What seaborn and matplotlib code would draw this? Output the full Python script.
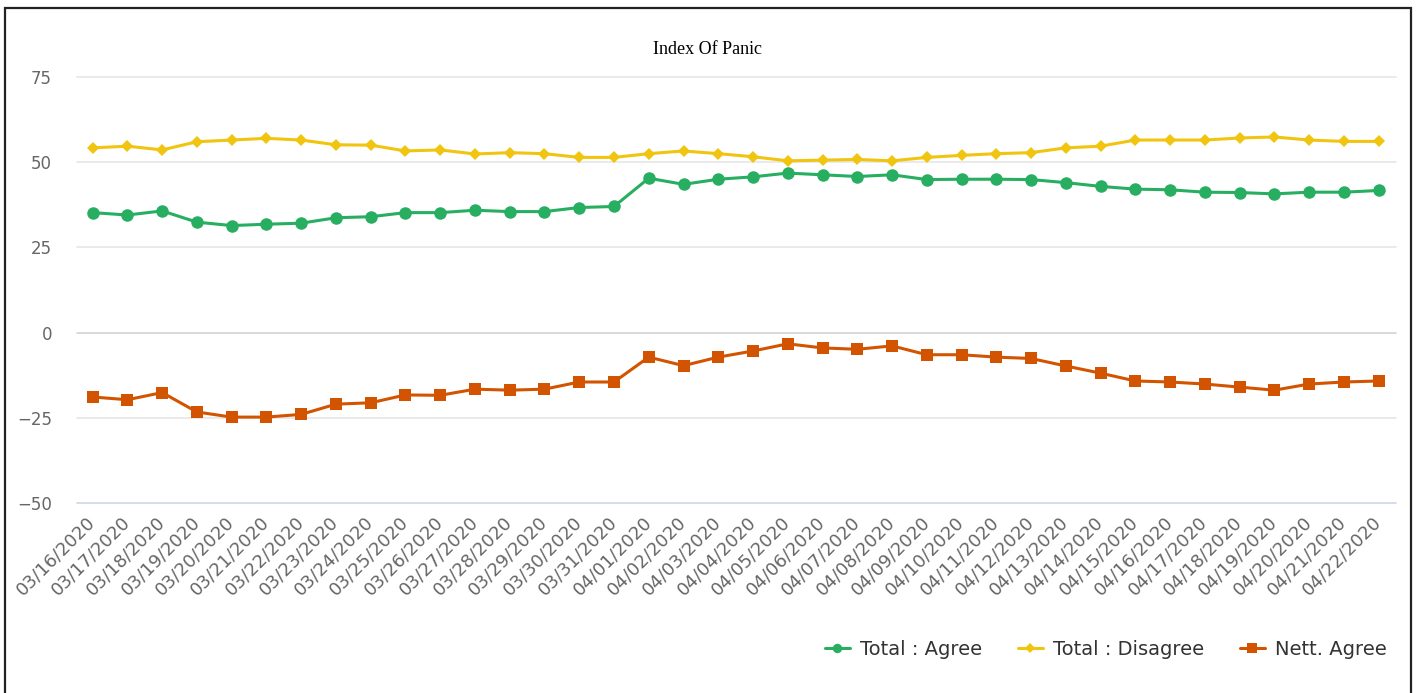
import numpy as np
import matplotlib
matplotlib.use('Agg')
import matplotlib.pyplot as plt
import seaborn as sns
from matplotlib.patches import Rectangle

# 数据
dates = ['03/16/2020', '03/17/2020', '03/18/2020', '03/19/2020', '03/20/2020', '03/21/2020',
         '03/22/2020', '03/23/2020', '03/24/2020', '03/25/2020', '03/26/2020', '03/27/2020',
         '03/28/2020', '03/29/2020', '03/30/2020', '03/31/2020', '04/01/2020', '04/02/2020',
         '04/03/2020', '04/04/2020', '04/05/2020', '04/06/2020', '04/07/2020', '04/08/2020',
         '04/09/2020', '04/10/2020', '04/11/2020', '04/12/2020', '04/13/2020', '04/14/2020',
         '04/15/2020', '04/16/2020', '04/17/2020', '04/18/2020', '04/19/2020', '04/20/2020',
         '04/21/2020', '04/22/2020']

total_agree = [35.2, 34.5, 35.7, 32.4, 31.4, 31.8, 32.1, 33.7, 34.0, 35.2, 35.2, 35.9,
               35.5, 35.5, 36.7, 37.0, 45.3, 43.5, 45.0, 45.7, 46.8, 46.3, 45.8, 46.3,
               44.9, 45.0, 45.0, 44.9, 44.0, 42.9, 42.1, 41.9, 41.2, 41.1, 40.7, 41.2,
               41.2, 41.7]

total_disagree = [54.2, 54.7, 53.6, 56.0, 56.5, 57.0, 56.5, 55.1, 55.0, 53.3, 53.6, 52.4,
                  52.8, 52.5, 51.4, 51.4, 52.5, 53.3, 52.5, 51.6, 50.4, 50.6, 50.8, 50.4,
                  51.4, 52.0, 52.5, 52.8, 54.2, 54.7, 56.5, 56.5, 56.5, 57.1, 57.4, 56.5,
                  56.1, 56.1]

nett_agree = [-18.9, -19.7, -17.6, -23.3, -24.8, -24.8, -24.0, -21.0, -20.6, -18.3, -18.4, -16.6,
              -16.9, -16.6, -14.5, -14.5, -7.2, -9.7, -7.2, -5.4, -3.3, -4.5, -4.9, -3.9,
              -6.5, -6.5, -7.2, -7.6, -9.8, -11.9, -14.2, -14.5, -15.1, -16.0, -16.9, -15.1,
              -14.5, -14.2]

y_ticks = [-50, -25, 0, 25, 50, 75]

sns.set_style('white')
plt.rcParams['font.family'] = ['DejaVu Sans']

fig = plt.figure(figsize=(14.21, 6.93), dpi=100)
ax = fig.add_axes([0.0542, 0.2742, 0.9282, 0.6147])

x = np.arange(len(dates))

# 网格线
for t in y_ticks:
    if t == -50:
        c = '#ccd6eb'
    elif t == 0:
        c = '#d3d3d3'
    else:
        c = '#e6e6e6'
    ax.axhline(t, color=c, linewidth=1.2, zorder=0, clip_on=False)

sns.lineplot(x=x, y=total_agree, color='#27ae60', marker='o', markersize=9,
             markeredgewidth=0, linewidth=2.2, label='Total : Agree', ax=ax)
sns.lineplot(x=x, y=total_disagree, color='#f1c40f', marker='D', markersize=6.5,
             markeredgewidth=0, linewidth=2.2, label='Total : Disagree', ax=ax)
sns.lineplot(x=x, y=nett_agree, color='#d35400', marker='s', markersize=9,
             markeredgewidth=0, linewidth=2.2, label='Nett. Agree', ax=ax)

ax.set_xlim(-0.45, len(dates) - 0.5)
ax.set_ylim(-50, 75)
ax.set_yticks(y_ticks)
ax.set_yticklabels([str(t).replace('-', '\u2212') for t in y_ticks])
ax.set_xticks(x)
ax.set_xticklabels(dates, rotation=45, ha='right', va='center', rotation_mode='anchor')
ax.tick_params(axis='y', length=0, pad=18, labelsize=12, labelcolor='#666666')
ax.tick_params(axis='x', length=0, pad=12, labelsize=13, labelcolor='#666666')
ax.set_xlabel('')
ax.set_ylabel('')
for s in ax.spines.values():
    s.set_visible(False)

fig.text(0.498, 0.928, 'Index Of Panic', ha='center', va='center',
         fontsize=13, family='Liberation Serif', color='#000000')

ax.legend(loc='center right', bbox_to_anchor=(0.988, 0.063), bbox_transform=fig.transFigure,
          ncol=3, frameon=False, fontsize=14, handlelength=1.3, handletextpad=0.5,
          columnspacing=1.85, markerscale=0.75, labelcolor='#333333')

# 外框
fig.patches.append(Rectangle((5 / 1421, -0.05), 1406 / 1421, 1.05 - 8 / 693,
                             transform=fig.transFigure, fill=False,
                             edgecolor='#222222', linewidth=1.6))

fig.savefig('out.png', dpi=100)
